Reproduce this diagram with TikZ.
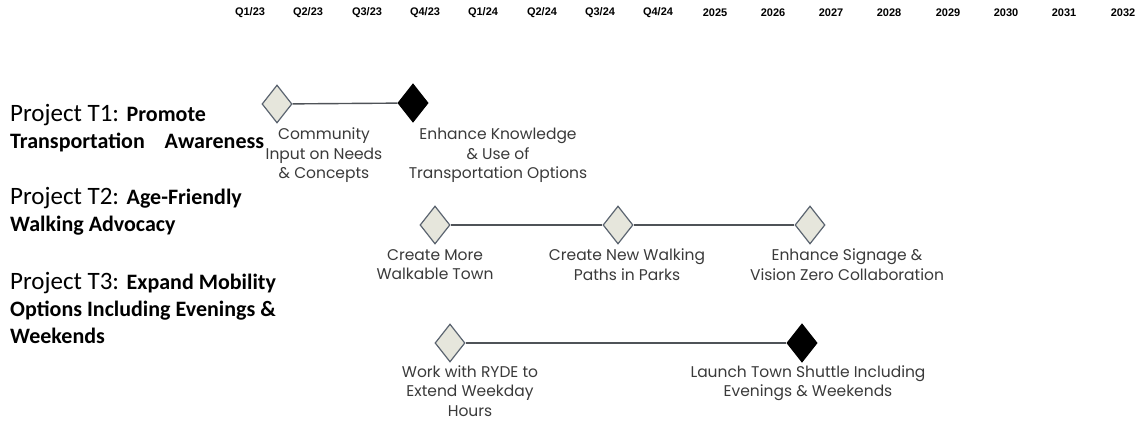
\documentclass[tikz,border=0pt]{standalone}
\usepackage{fontspec}
\usetikzlibrary{shapes.geometric}
\newfontfamily\hdrfont{Liberation Sans}
\newfontfamily\projfont{Carlito}
\newfontfamily\msfont{Poppins}
\definecolor{msfill}{HTML}{E6E6DC}
\definecolor{msedge}{HTML}{5B6470}
\definecolor{msline}{HTML}{4F5358}
\definecolor{mstext}{HTML}{3A3A3A}
\begin{document}
\begin{tikzpicture}[x=1pt, y=-1pt, line join=miter,
        hdr/.style={font=\hdrfont\bfseries\fontsize{11}{12}\selectfont, anchor=center, inner sep=0pt},
        proj/.style={font=\projfont\fontsize{25}{27}\selectfont, anchor=base west, align=left, inner sep=0pt},
        ms/.style={diamond, draw=msedge, fill=msfill, line width=1.2pt, minimum width=30pt, minimum height=38pt, inner sep=0pt},
        msdone/.style={ms, draw=black, fill=black},
        mslabel/.style={font=\msfont\fontsize{15.5}{19.5}\selectfont, text=mstext, align=center, anchor=north, inner sep=0pt},
        link/.style={draw=msline, line width=1.4pt}]
        \useasboundingbox (0, 0) rectangle (1139, 420);
        % time axis
        \node[hdr] (q123) at (250, 13) {Q1/23};
        \node[hdr] (q223) at (308, 13) {Q2/23};
        \node[hdr] (q323) at (367, 13) {Q3/23};
        \node[hdr] (q423) at (425, 13) {Q4/23};
        \node[hdr] (q124) at (483, 13) {Q1/24};
        \node[hdr] (q224) at (542, 13) {Q2/24};
        \node[hdr] (q324) at (600, 13) {Q3/24};
        \node[hdr] (q424) at (658, 13) {Q4/24};
        \node[hdr] (y2025) at (715, 13) {2025};
        \node[hdr] (y2026) at (773, 13) {2026};
        \node[hdr] (y2027) at (831, 13) {2027};
        \node[hdr] (y2028) at (889, 13) {2028};
        \node[hdr] (y2029) at (948, 13) {2029};
        \node[hdr] (y2030) at (1006, 13) {2030};
        \node[hdr] (y2031) at (1064, 13) {2031};
        \node[hdr] (y2032) at (1123, 13) {2032};
        % projects (base anchor sits on the last line)
        \node[proj] (t1) at (10, 148) {Project T1: {\bfseries\fontsize{22}{26}\selectfont Promote}\\{\bfseries\fontsize{22}{26}\selectfont Transportation\ \ \ \ Awareness}};
        \node[proj] (t2) at (10, 231) {Project T2: {\bfseries\fontsize{22}{27}\selectfont Age-Friendly}\\{\bfseries\fontsize{22}{27}\selectfont Walking Advocacy}};
        \node[proj] (t3) at (10, 343) {Project T3: {\bfseries\fontsize{22}{29}\selectfont Expand Mobility}\\{\bfseries\fontsize{22}{29}\selectfont Options Including Evenings \&}\\{\bfseries\fontsize{22}{29}\selectfont Weekends}};
        % milestones T1
        \node[ms] (m11) at (277, 104) {};
        \node[msdone] (m12) at (413, 103) {};
        \draw[link] (m11) -- (m12);
        \node[mslabel] (l11) at (324, 128) {Community\\Input on Needs\\\& Concepts};
        \node[mslabel] (l12) at (498, 128) {Enhance Knowledge\\\& Use of\\Transportation Options};
        % milestones T2
        \node[ms] (m21) at (435, 225) {};
        \node[ms] (m22) at (618, 225) {};
        \node[ms] (m23) at (810, 225) {};
        \draw[link] (m21) -- (m22);
        \draw[link] (m22) -- (m23);
        \node[mslabel] (l21) at (435, 249) {Create More\\Walkable Town};
        \node[mslabel] (l22) at (627, 249) {Create New Walking\\Paths in Parks};
        \node[mslabel] (l23) at (847, 249) {Enhance Signage \&\\Vision Zero Collaboration};
        % milestones T3
        \node[ms] (m31) at (450, 343) {};
        \node[msdone] (m32) at (802, 343) {};
        \draw[link] (m31) -- (m32);
        \node[mslabel] (l31) at (470, 365) {Work with RYDE to\\Extend Weekday\\Hours};
        \node[mslabel] (l32) at (808, 365) {Launch Town Shuttle Including\\Evenings \& Weekends};
\end{tikzpicture}
\end{document}
